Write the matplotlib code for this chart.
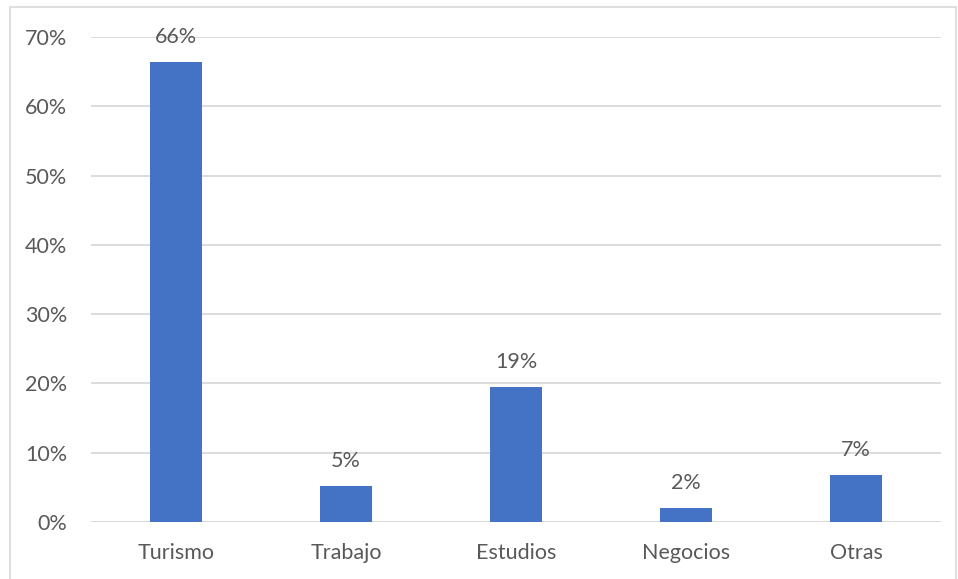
import matplotlib.pyplot as plt
from matplotlib.patches import Rectangle

plt.rcParams['font.family'] = ['Lato', 'DejaVu Sans']

categorias = ['Turismo', 'Trabajo', 'Estudios', 'Negocios', 'Otras']
valores = [0.664, 0.052, 0.195, 0.020, 0.068]
etiquetas = ['66%', '5%', '19%', '2%', '7%']
yticks = [0, 0.1, 0.2, 0.3, 0.4, 0.5, 0.6, 0.7]

gris = '#595959'

fig = plt.figure(figsize=(9.58, 5.79), dpi=100)
ax = fig.add_axes([91/958, 57/579, 850/958, 485/579])

x = range(len(categorias))
ax.bar(x, valores, width=0.31, color='#4472C4', zorder=3)
for i, (v, t) in enumerate(zip(valores, etiquetas)):
    ax.annotate(t, (i, v), xytext=(0, 18), textcoords='offset points',
                ha='center', va='center', fontsize=15.5, color=gris, zorder=4)

ax.set_xlim(-0.5, len(categorias) - 0.5)
ax.set_ylim(0, 0.7)
ax.set_yticks(yticks)
ax.set_yticklabels([f'{int(round(t*100))}%' for t in yticks])
ax.set_xticks(list(x))
ax.set_xticklabels(categorias)
ax.tick_params(axis='both', length=0, labelsize=15.5, colors=gris)
ax.tick_params(axis='y', pad=17)
ax.tick_params(axis='x', pad=15)
ax.grid(axis='y', color='#d9d9d9', linewidth=1.3, zorder=0)
for s in ax.spines.values():
    s.set_visible(False)
ax.axhline(0, color='#d9d9d9', linewidth=1.3, zorder=2)

fig.patches.append(Rectangle((10/958, -0.01), 946/958, 1 - 7/579 + 0.01,
                             transform=fig.transFigure, fill=False,
                             edgecolor='#d9d9d9', linewidth=1.2))

fig.savefig('out.png', dpi=100)
